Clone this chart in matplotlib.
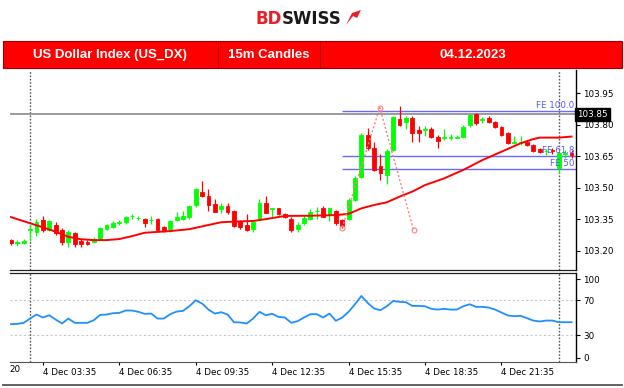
import numpy as np
import matplotlib
matplotlib.use("Agg")
import matplotlib.pyplot as plt
from matplotlib.patches import Rectangle, Polygon
from matplotlib.lines import Line2D

# 15m candles, US_DX, 4 Dec 2023 (index 0 = 02:20)
opens = [103.250, 103.235, 103.236, 103.300, 103.290, 103.345, 103.300, 103.325, 103.300, 103.240,
         103.285, 103.245, 103.243, 103.243, 103.255, 103.305, 103.312, 103.333, 103.335, 103.364,
         103.354, 103.350, 103.345, 103.350, 103.312, 103.303, 103.347, 103.350, 103.362, 103.418,
         103.480, 103.460, 103.422, 103.400, 103.413, 103.390, 103.340, 103.323, 103.303, 103.350,
         103.430, 103.399, 103.402, 103.375, 103.350, 103.303, 103.331, 103.351, 103.388, 103.402,
         103.370, 103.390, 103.345, 103.350, 103.442, 103.553, 103.750, 103.690, 103.605, 103.560,
         103.680, 103.830, 103.812, 103.834, 103.775, 103.775, 103.780, 103.743, 103.738, 103.738,
         103.739, 103.740, 103.800, 103.850, 103.824, 103.834, 103.815, 103.790, 103.760, 103.714,
         103.713, 103.720, 103.704, 103.685, 103.673, 103.680, 103.593, 103.662, 103.668]
highs = [103.255, 103.251, 103.255, 103.325, 103.350, 103.365, 103.345, 103.335, 103.310, 103.300,
         103.290, 103.255, 103.250, 103.265, 103.315, 103.330, 103.340, 103.345, 103.365, 103.375,
         103.366, 103.355, 103.366, 103.355, 103.320, 103.345, 103.385, 103.390, 103.420, 103.500,
         103.534, 103.495, 103.445, 103.428, 103.430, 103.395, 103.345, 103.375, 103.345, 103.445,
         103.460, 103.405, 103.405, 103.378, 103.360, 103.335, 103.370, 103.400, 103.410, 103.415,
         103.410, 103.395, 103.350, 103.450, 103.555, 103.760, 103.785, 103.720, 103.660, 103.685,
         103.840, 103.890, 103.840, 103.840, 103.795, 103.795, 103.790, 103.750, 103.780, 103.755,
         103.750, 103.800, 103.852, 103.855, 103.838, 103.840, 103.820, 103.795, 103.765, 103.745,
         103.745, 103.730, 103.710, 103.690, 103.685, 103.690, 103.670, 103.680, 103.680]
lows = [103.230, 103.223, 103.232, 103.245, 103.270, 103.290, 103.295, 103.275, 103.230, 103.220,
        103.220, 103.220, 103.228, 103.240, 103.250, 103.300, 103.310, 103.322, 103.330, 103.350,
        103.345, 103.313, 103.330, 103.290, 103.290, 103.290, 103.340, 103.345, 103.350, 103.410,
        103.455, 103.390, 103.383, 103.380, 103.375, 103.315, 103.305, 103.296, 103.290, 103.345,
        103.378, 103.360, 103.370, 103.355, 103.290, 103.290, 103.325, 103.345, 103.350, 103.360,
        103.340, 103.325, 103.310, 103.345, 103.435, 103.545, 103.680, 103.580, 103.535, 103.520,
        103.675, 103.795, 103.780, 103.720, 103.720, 103.745, 103.735, 103.690, 103.730, 103.730,
        103.735, 103.735, 103.790, 103.800, 103.810, 103.810, 103.783, 103.745, 103.710, 103.710,
        103.705, 103.700, 103.670, 103.665, 103.655, 103.660, 103.570, 103.640, 103.640]
closes = [103.235, 103.240, 103.247, 103.305, 103.335, 103.300, 103.340, 103.285, 103.240, 103.290,
          103.232, 103.232, 103.233, 103.257, 103.310, 103.322, 103.334, 103.336, 103.360, 103.367,
          103.357, 103.331, 103.348, 103.300, 103.300, 103.340, 103.362, 103.366, 103.413, 103.493,
          103.461, 103.420, 103.386, 103.413, 103.386, 103.318, 103.312, 103.300, 103.339, 103.426,
          103.381, 103.402, 103.375, 103.363, 103.300, 103.323, 103.355, 103.386, 103.391, 103.362,
          103.402, 103.331, 103.320, 103.442, 103.545, 103.750, 103.688, 103.585, 103.570, 103.675,
          103.835, 103.800, 103.834, 103.760, 103.760, 103.782, 103.740, 103.723, 103.742, 103.742,
          103.743, 103.790, 103.846, 103.808, 103.828, 103.815, 103.788, 103.751, 103.715, 103.717,
          103.716, 103.704, 103.676, 103.672, 103.676, 103.676, 103.664, 103.666, 103.656]

# moving average, read at these candle positions
ma_idx = [-0.16, 3, 5, 7, 9, 11, 13, 15, 17, 19, 21, 25, 28, 31, 33, 35, 38, 40, 43, 47, 51,
          53, 55, 57, 59, 61, 63, 65, 68, 71, 74, 77, 80, 82, 83, 86, 88]
ma_val = [103.362, 103.331, 103.312, 103.291, 103.267, 103.255, 103.251, 103.251, 103.256,
          103.270, 103.286, 103.294, 103.303, 103.323, 103.336, 103.339, 103.342, 103.351,
          103.366, 103.367, 103.370, 103.376, 103.402, 103.418, 103.431, 103.458, 103.482,
          103.513, 103.545, 103.585, 103.632, 103.672, 103.712, 103.732, 103.739, 103.739, 103.744]

# RSI, one value per candle
rsi = [42.8, 43.2, 44.4, 49.3, 53.9, 50.5, 53.1, 48.2, 43.6, 49.3,
       44.4, 44.4, 44.4, 47.4, 53.5, 53.9, 55.4, 55.8, 58.5, 58.5,
       57.0, 54.7, 55.0, 49.3, 49.3, 54.3, 57.3, 58.1, 63.4, 70.3,
       66.5, 59.6, 55.0, 56.6, 53.9, 45.1, 44.8, 43.6, 49.3, 57.0,
       53.1, 54.7, 51.2, 50.5, 44.4, 46.3, 50.5, 54.3, 54.3, 50.5,
       55.0, 46.7, 50.5, 57.0, 65.7, 75.2, 67.2, 60.8, 58.9, 63.4,
       69.5, 68.4, 68.0, 63.8, 63.8, 63.4, 60.4, 59.6, 60.4, 59.6,
       59.6, 63.4, 65.7, 62.7, 62.7, 61.9, 59.6, 56.2, 52.8, 52.0,
       52.4, 49.7, 47.0, 45.9, 47.0, 47.0, 45.1, 45.1, 45.1]

# fibonacci expansion anchors and levels
fe_idx = [52, 57.9, 63.2]
fe_price = [103.310, 103.882, 103.299]
fe_levels = [103.867, 103.651, 103.588]
fe_labels = ["FE 100.0", "FE 61.8", "FE 50"]
fe_start = 52
hline_price = 103.85
vlines_idx = [3, 86]

tick_idx = [5, 17, 29, 41, 53, 65, 77]
tick_lab = ["4 Dec 03:35", "4 Dec 06:35", "4 Dec 09:35", "4 Dec 12:35",
            "4 Dec 15:35", "4 Dec 18:35", "4 Dec 21:35"]
price_ticks = [103.20, 103.35, 103.50, 103.65, 103.80, 103.95]

W, H = 624, 388
fig = plt.figure(figsize=(W / 100, H / 100), dpi=100)
fig.patch.set_facecolor("white")

def fx(x):
    return x / W

def fy(y):
    return 1 - y / H

GREEN = "#00ff00"
RED = "#ff0000"
FS = 6.3

# ---- logo ----
fig.text(fx(282), fy(19), "BD", color="#e8202a", fontsize=12, fontweight="bold",
         ha="right", va="center", family="DejaVu Sans")
fig.text(fx(282), fy(19), "SWISS", color="#1a1a1a", fontsize=12, fontweight="bold",
         ha="left", va="center", family="DejaVu Sans")
icon = [(346, 25), (352, 13), (361, 10), (357, 18), (353, 16)]
fig.add_artist(Polygon([(fx(a), fy(b)) for a, b in icon], closed=True,
                       transform=fig.transFigure, fc="#e8202a", ec="none"))

# ---- red header ----
fig.add_artist(Rectangle((fx(3), fy(68.3)), fx(619), (68.3 - 40.7) / H,
                         transform=fig.transFigure, fc="#ff0000", ec="#a00000", lw=0.8))
for xd in [218, 320]:
    fig.add_artist(Line2D([fx(xd), fx(xd)], [fy(68.3), fy(40.7)],
                          transform=fig.transFigure, color="#b00000", lw=0.8))
hdr = dict(color="white", fontsize=9.5, fontweight="bold", ha="center", va="center",
           family="Liberation Sans")
fig.text(fx(110), fy(55), "US Dollar Index (US_DX)", **hdr)
fig.text(fx(269), fy(55), "15m Candles", **hdr)
fig.text(fx(473), fy(55), "04.12.2023", **hdr)

# ---- main price panel ----
ax = fig.add_axes([fx(10), fy(270), fx(576) - fx(10), (270 - 70) / H])
ax.set_xlim(-0.16, 88.7)
ax.set_ylim(103.1086, 104.061)

idx = np.arange(len(opens))
o = np.array(opens)
c = np.array(closes)
cols = [GREEN if cc >= oo else RED for oo, cc in zip(o, c)]
ax.vlines(idx, lows, highs, colors=cols, lw=0.9, zorder=3)
ax.bar(idx, np.abs(c - o), bottom=np.minimum(o, c), width=0.6, color=cols,
       edgecolor=cols, linewidth=0.6, zorder=4)
ax.plot(ma_idx, ma_val, color=RED, lw=1.4, zorder=5)

ax.axhline(hline_price, color="#8a8a8a", lw=1.2, zorder=2)
for lv, lb in zip(fe_levels, fe_labels):
    ax.hlines(lv, fe_start, 88.7, color="#6a6aff", lw=1.0, zorder=2)
    ax.text(88.5, lv + 0.004, lb, color="#5a5aff", fontsize=FS, ha="right", va="bottom",
            zorder=6)
ax.plot(fe_idx, fe_price, color="#ff8080", lw=1.0, ls=(0, (1.5, 1.5)), marker="o",
        ms=3.5, mfc="none", mec="#ff8080", mew=0.8, zorder=6)
for v in vlines_idx:
    ax.axvline(v, color="#555555", lw=1.0, ls=(0, (1.2, 1.2)), zorder=1)

ax.yaxis.tick_right()
ax.set_yticks(price_ticks)
ax.set_yticklabels([f"{p:.2f}" for p in price_ticks])
ax.tick_params(axis="y", length=3, width=0.8, labelsize=FS, pad=2, colors="black")
ax.tick_params(axis="x", bottom=False, labelbottom=False)
for s in ["left", "top"]:
    ax.spines[s].set_visible(False)
ax.spines["right"].set_linewidth(1.0)
ax.spines["bottom"].set_linewidth(0.9)
ax.spines["bottom"].set_color("#222222")

ax.text(1.002, (hline_price - 103.1086) / (104.061 - 103.1086), f"{hline_price:.2f}",
        transform=ax.transAxes, color="white", fontsize=FS, ha="left", va="center",
        bbox=dict(boxstyle="square,pad=0.25", fc="black", ec="black"), zorder=10)

# ---- RSI panel ----
ax2 = fig.add_axes([fx(10), fy(361.7), fx(576) - fx(10), (361.7 - 272.6) / H])
ax2.set_xlim(-0.16, 88.7)
ax2.set_ylim(-0.2, 102)
ax2.plot(idx, rsi, color="#1e90ff", lw=1.3, zorder=3)
for g in [70, 30]:
    ax2.axhline(g, color="#c8c8c8", lw=0.8, ls=(0, (2, 2)), zorder=1)
for v in vlines_idx:
    ax2.axvline(v, color="#555555", lw=1.0, ls=(0, (1.2, 1.2)), zorder=2)

ax2.yaxis.tick_right()
ax2.set_yticks([94.5, 70, 30, 4.5])
ax2.set_yticklabels(["100", "70", "30", "0"])
ax2.tick_params(axis="y", length=3, width=0.8, labelsize=FS, pad=2)
ax2.set_xticks(tick_idx)
ax2.set_xticklabels(tick_lab)
ax2.tick_params(axis="x", length=2.5, width=0.8, labelsize=FS, pad=2)
for lab in ax2.get_xticklabels():
    lab.set_ha("left")
ax2.spines["left"].set_visible(False)
ax2.spines["top"].set_linewidth(0.9)
ax2.spines["top"].set_color("#222222")
ax2.spines["right"].set_linewidth(1.0)
ax2.spines["bottom"].set_color("#555555")
fig.text(fx(9), fy(369), "20", fontsize=FS, ha="left", va="center")

# bottom rule
fig.add_artist(Line2D([fx(3), fx(622)], [fy(384.5), fy(384.5)],
                      transform=fig.transFigure, color="#555555", lw=1.3))

fig.savefig("out.png", dpi=100)
